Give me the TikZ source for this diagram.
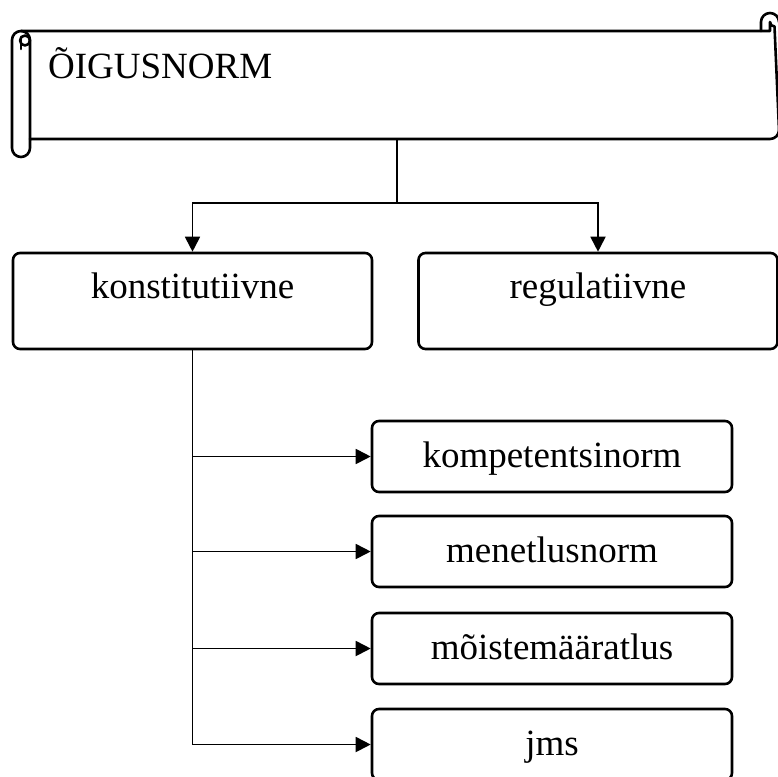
\documentclass[tikz,border=0pt]{standalone}
\usepackage{fontspec}
\setmainfont{Liberation Serif}
\usetikzlibrary{arrows.meta}
\begin{document}
\begin{tikzpicture}[x=1pt,y=-1pt,
  big/.style={font=\fontsize{37}{44}\selectfont},
  box/.style={big, draw, line width=2.6pt, rounded corners=7pt, fill=white, inner sep=0pt},
  topbox/.style={box, minimum width=359pt, minimum height=96pt, text height=25pt, text depth=31pt},
  subbox/.style={box, minimum width=360pt, minimum height=71pt, text height=25pt, text depth=4pt},
  link/.style={line width=1.8pt},
  arr/.style={link, -{Triangle[length=15pt,width=15pt]}},
  scrollline/.style={line width=2.6pt, line join=round, line cap=round}]
\clip (0,0) rectangle (778,776);

% scroll banner
\draw[scrollline]
  (12,40) arc[start angle=180, end angle=270, radius=9] -- (770,31) -- (770,22)
  arc[start angle=180, end angle=90, radius=4.5] -- (779,130)
  arc[start angle=0, end angle=90, radius=9] -- (30,139) -- (30,148)
  arc[start angle=0, end angle=180, radius=9] -- cycle;
\draw[scrollline] (761,31) -- (761,22) arc[start angle=180, end angle=360, radius=9];
\draw[scrollline] (21,31) arc[start angle=270, end angle=360, radius=9] -- (30,139);
\draw[scrollline] (25,40.5) circle[radius=5];
\draw[scrollline] (21,40) -- (21,49);
\node[minimum width=752pt, minimum height=108pt, inner sep=0pt] (scroll) at (397,85) {};
\node[big, anchor=base west, inner sep=0pt] (title) at (48,78) {ÕIGUSNORM};

% first level
\node[topbox] (konst) at (192.5,301) {konstitutiivne};
\node[topbox] (regul) at (598,301) {regulatiivne};

% second level
\node[subbox] (komp) at (552,456.5) {kompetentsinorm};
\node[subbox] (menet) at (552,551.5) {menetlusnorm};
\node[subbox] (moiste) at (552,648.5) {mõistemääratlus};
\node[subbox] (jms) at (552,744.5) {jms};

% connectors
\coordinate (split) at (397,203);
\draw[link] (scroll.south) -- (split);
\draw[arr] (split) -| (konst.north);
\draw[arr] (split) -| (regul.north);

\draw[link] (konst.south) -- (konst.south |- jms.west);
\foreach \b in {komp,menet,moiste,jms}
  \draw[arr] (konst.south |- \b.west) -- (\b.west);
\end{tikzpicture}
\end{document}
